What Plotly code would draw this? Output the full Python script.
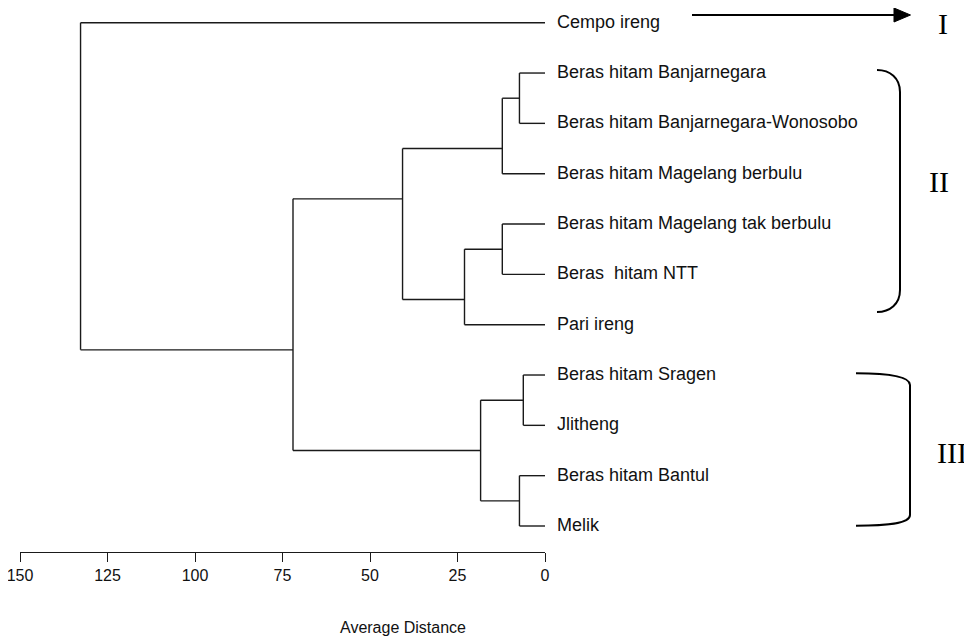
import plotly.graph_objects as go

# ---------------- data ----------------
leaf_labels = [
    "Cempo ireng",
    "Beras hitam Banjarnegara",
    "Beras hitam Banjarnegara-Wonosobo",
    "Beras hitam Magelang berbulu",
    "Beras hitam Magelang tak berbulu",
    "Beras\u00a0 hitam NTT",
    "Pari ireng",
    "Beras hitam Sragen",
    "Jlitheng",
    "Beras hitam Bantul",
    "Melik",
]
# linkage: merge k creates node id len(leaf_labels)+k
merge_left = [1, 11, 4, 13, 12, 7, 9, 16, 15, 0]
merge_right = [2, 3, 5, 6, 14, 8, 10, 17, 18, 19]
merge_height = [7.3, 12.2, 12.2, 23.0, 40.7, 6.2, 7.3, 18.4, 72.0, 132.7]

tick_values = [150, 125, 100, 75, 50, 25, 0]
axis_title = "Average Distance"
group_labels = ["I", "II", "III"]

# ---------------- geometry (screen pixels) ----------------
SCREEN_W, SCREEN_H = 972, 639
OFF = 8                      # default page body margin
W, H = SCREEN_W - OFF, SCREEN_H - OFF
PLOT_LEFT, PLOT_RIGHT = 20, 545
PLOT_TOP, PLOT_BOTTOM = 10, 552
L = PLOT_LEFT - OFF
T = PLOT_TOP - OFF
R = W - (PLOT_RIGHT - OFF)
B = H - (PLOT_BOTTOM - OFF)
plot_w = PLOT_RIGHT - PLOT_LEFT
plot_h = PLOT_BOTTOM - PLOT_TOP
LEAF0_PX, LEAF_STEP = 22.7, 50.33

def fx(px):
    return (px - PLOT_LEFT) / plot_w

def fy(py):
    return (PLOT_BOTTOM - py) / plot_h

SANS = "Liberation Sans Narrow, Arial Narrow, Liberation Sans, Arial, sans-serif"
SERIF = "Liberation Serif, Times New Roman, serif"
LINE_COL = "#1a1a1a"

# ---------------- dendrogram layout ----------------
n = len(leaf_labels)
node_y = {i: float(i) for i in range(n)}
node_h = {i: 0.0 for i in range(n)}
first = {i: i for i in range(n)}
last = {i: i for i in range(n)}

xs, ys = [], []
for k, (a, b, h) in enumerate(zip(merge_left, merge_right, merge_height)):
    nid = n + k
    node_y[nid] = (last[a] + first[b]) / 2.0
    node_h[nid] = h
    first[nid] = first[a]
    last[nid] = last[b]
    for c in (a, b):
        xs += [node_h[c], h, None]
        ys += [node_y[c], node_y[c], None]
    xs += [h, h, None]
    ys += [node_y[a], node_y[b], None]

fig = go.Figure()
fig.add_trace(go.Scatter(
    x=xs, y=ys, mode="lines",
    line=dict(color=LINE_COL, width=1.4),
    hoverinfo="skip", cliponaxis=False, showlegend=False,
))

annotations = []
for i, lab in enumerate(leaf_labels):
    annotations.append(dict(
        x=0, y=i, xref="x", yref="y", text=lab, showarrow=False,
        xanchor="left", yanchor="middle", xshift=10, yshift=1,
        font=dict(family=SANS, size=18, color="#111"),
    ))

annotations.append(dict(
    x=fx(403), y=fy(627), xref="paper", yref="paper", text=axis_title,
    showarrow=False, xanchor="center", yanchor="middle",
    font=dict(family=SANS, size=16, color="#111"),
))

group_pos = [(943, 24), (938.5, 181.7), (951.5, 452.7)]
for lab, (gx, gy) in zip(group_labels, group_pos):
    annotations.append(dict(
        x=fx(gx), y=fy(gy), xref="paper", yref="paper", text=lab,
        showarrow=False, xanchor="center", yanchor="middle",
        font=dict(family=SERIF, size=30, color="#000"),
    ))

def path(cmds):
    out = []
    for c in cmds:
        if isinstance(c, str):
            out.append(c)
        else:
            out.append("%.5f,%.5f" % (fx(c[0]), fy(c[1])))
    return " ".join(out)

shapes = [
    dict(type="line", xref="paper", yref="paper",
         x0=fx(692), y0=fy(15), x1=fx(897), y1=fy(15),
         line=dict(color="#000", width=2.2)),
    dict(type="path", xref="paper", yref="paper",
         path=path(["M", (894, 8), "L", (910.5, 15), "L", (894, 22), "Z"]),
         fillcolor="#000", line=dict(color="#000", width=1)),
    dict(type="path", xref="paper", yref="paper",
         path=path(["M", (877, 70), "C", (890, 70), (900, 78), (900, 92),
                    "L", (900, 290),
                    "C", (900, 304), (890, 312), (877, 312)]),
         line=dict(color="#000", width=2)),
    dict(type="path", xref="paper", yref="paper",
         path=path(["M", (856, 373.3), "C", (885, 373.3), (910, 376), (910, 385),
                    "L", (910, 515),
                    "C", (910, 524), (885, 525.7), (856, 525.7)]),
         line=dict(color="#000", width=2)),
]

fig.update_layout(
    width=W, height=H,
    margin=dict(l=L, r=R, t=T, b=B, pad=0, autoexpand=False),
    paper_bgcolor="white", plot_bgcolor="white",
    annotations=annotations, shapes=shapes,
    xaxis=dict(
        range=[150, 0], tickvals=tick_values,
        ticktext=[str(v) for v in tick_values],
        ticks="outside", ticklen=9, tickwidth=1.4, tickcolor=LINE_COL,
        showline=True, linecolor=LINE_COL, linewidth=1.4,
        showgrid=False, zeroline=False, automargin=False,
        ticklabeloverflow="allow",
        tickfont=dict(family=SANS, size=16, color="#111"),
        fixedrange=True,
    ),
    yaxis=dict(
        range=[(PLOT_BOTTOM - LEAF0_PX) / LEAF_STEP, (PLOT_TOP - LEAF0_PX) / LEAF_STEP],
        visible=False, showgrid=False, zeroline=False, fixedrange=True,
        automargin=False,
    ),
    showlegend=False,
)

fig.write_html("out.html")
